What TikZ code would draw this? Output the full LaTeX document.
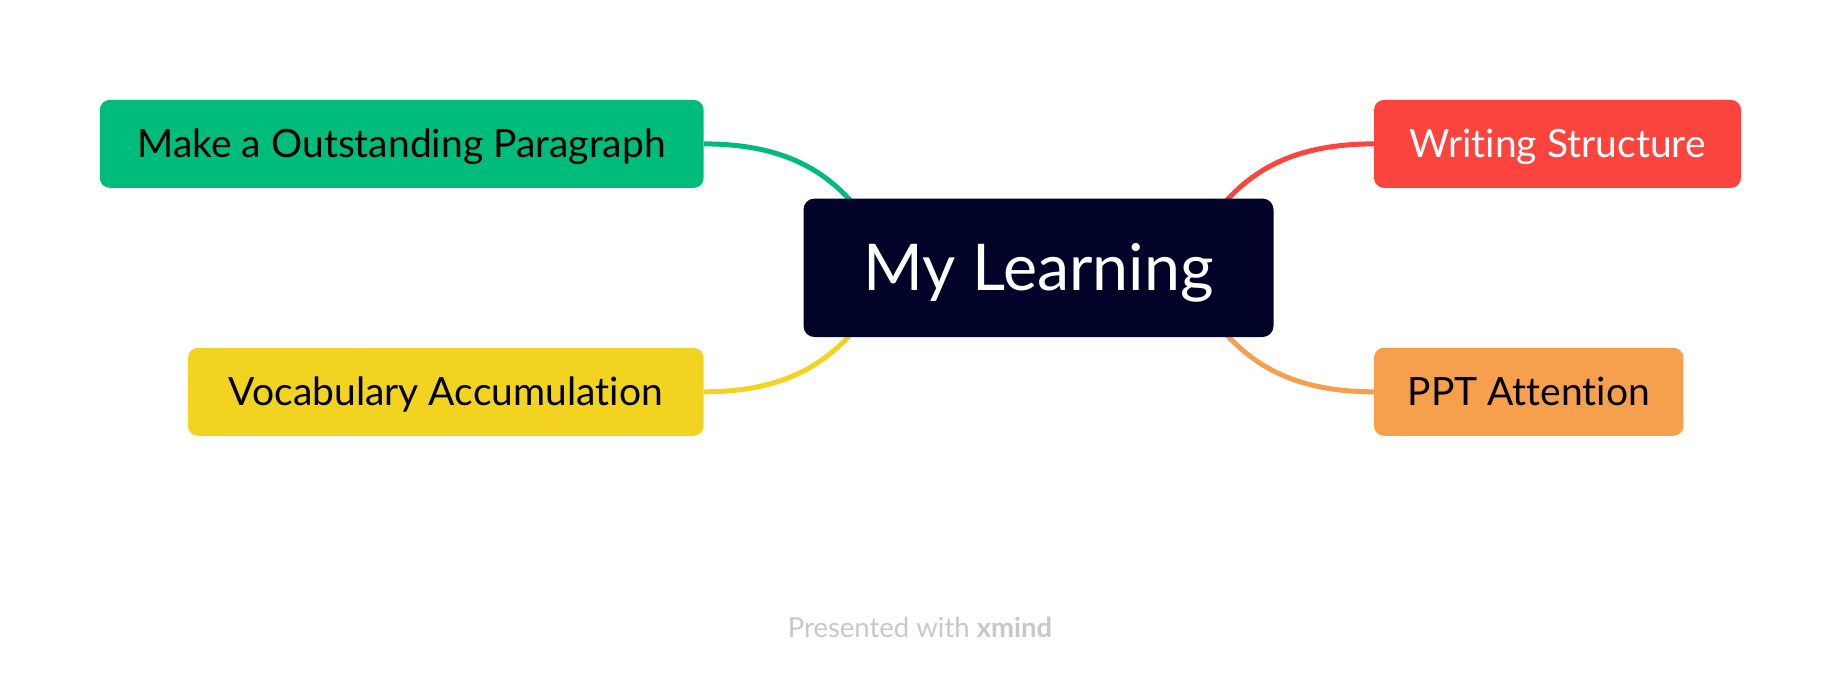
\documentclass[tikz,border=0pt]{standalone}
\usepackage{fontspec}
\setmainfont{Lato}[Ligatures=NoCommon]
\definecolor{cgreen}{HTML}{00BC7C}
\definecolor{cred}{HTML}{FA443D}
\definecolor{cyellow}{HTML}{F2D420}
\definecolor{corange}{HTML}{F6A04D}
\definecolor{croot}{HTML}{000228}
\definecolor{cfoot}{HTML}{C8C8C8}
\pgfdeclarelayer{bg}
\pgfsetlayers{bg,main}
\tikzset{
  topicbox/.style={rounded corners=10pt, inner sep=0pt, minimum height=88pt, text height=27.9pt, text depth=0pt, font=\fontsize{39}{46}\selectfont, text=black},
  rootbox/.style={rounded corners=11pt, inner sep=0pt, fill=croot, text=white, minimum width=470pt, minimum height=138.5pt, text height=46.2pt, text depth=0pt, font=\fontsize{64.5}{76}\selectfont},
  link/.style={line width=5pt},
}
\begin{document}
\begin{tikzpicture}[x=1pt,y=-1pt]
\useasboundingbox (0,0) rectangle (1842,676);
\node[rootbox] (root) at (1038.5,267.8) {My Learning};
\node[topicbox, fill=cgreen, minimum width=603.8pt] (green) at (401.7,143.9) {Make a Outstanding Paragraph};
\node[topicbox, fill=cred, text=white, minimum width=367pt] (red) at (1557.5,143.9) {Writing Structure};
\node[topicbox, fill=cyellow, minimum width=515.6pt] (yellow) at (445.8,391.8) {Vocabulary Accumulation};
\node[topicbox, fill=corange, minimum width=309.5pt] (orange) at (1528.7,391.8) {PPT Attention};
\coordinate (gl) at (870,225);
\coordinate (rl) at (1207,225);
\coordinate (yl) at (870,310);
\coordinate (ol) at (1207,310);
\begin{pgfonlayer}{bg}
\draw[link, cgreen] (green.east) .. controls (790,143.9) and (835,175) .. (gl);
\draw[link, cred] (red.west) .. controls (1287,143.9) and (1242,175) .. (rl);
\draw[link, cyellow] (yellow.east) .. controls (790,391.8) and (835,360) .. (yl);
\draw[link, corange] (orange.west) .. controls (1287,391.8) and (1242,360) .. (ol);
\end{pgfonlayer}
\node[text=cfoot, font=\fontsize{27.5}{32}\selectfont] (foot) at (920,627) {Presented with \textbf{xmind}};
\end{tikzpicture}
\end{document}
